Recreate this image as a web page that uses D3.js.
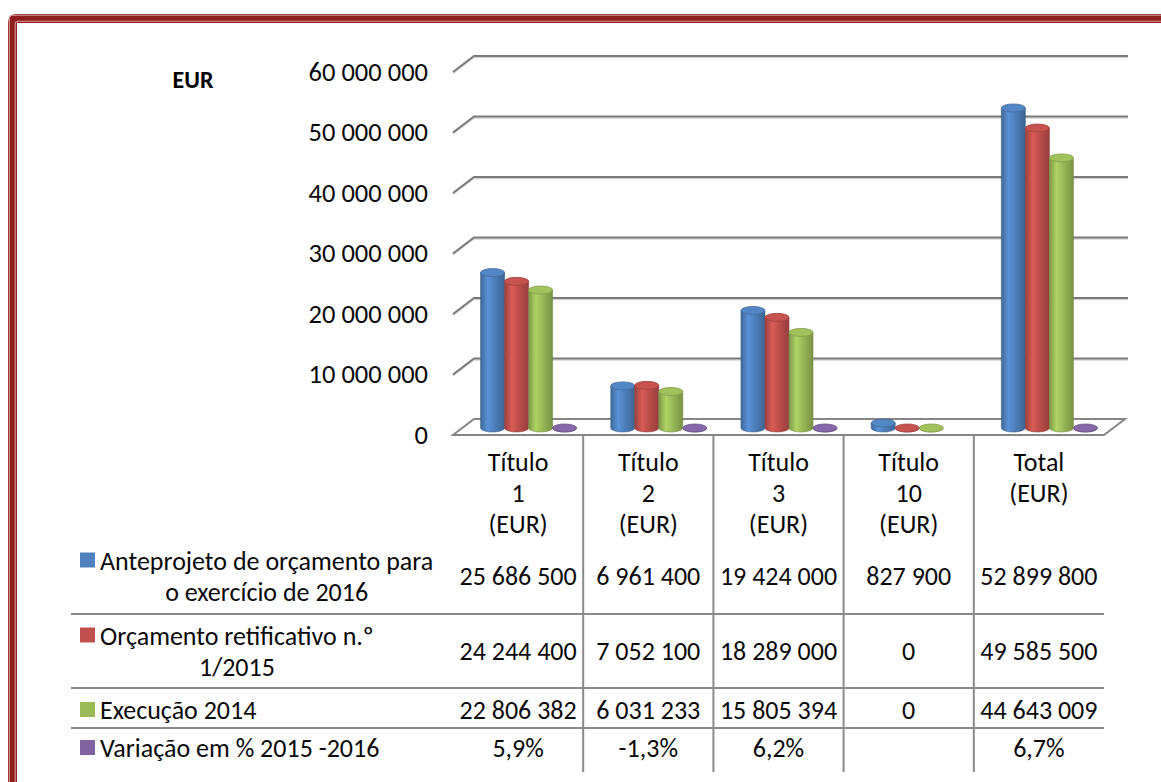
<!DOCTYPE html>
<html>
<head>
<meta charset="utf-8">
<script src="https://cdn.jsdelivr.net/npm/d3@7"></script>
<style>
  body { margin: 0; background: #fff; }
  svg { display: block; font-family: Calibri, Carlito, Lato, sans-serif; }
</style>
</head>
<body>
<svg></svg>
<script>
// data
const categories = ["Título 1", "Título 2", "Título 3", "Título 10", "Total"];
const categoryLines = [
  ["Título", "1", "(EUR)"],
  ["Título", "2", "(EUR)"],
  ["Título", "3", "(EUR)"],
  ["Título", "10", "(EUR)"],
  ["Total", "(EUR)"]
];
const seriesLines = [
  ["Anteprojeto de orçamento para", "o exercício de 2016"],
  ["Orçamento retificativo n.º", "1/2015"],
  ["Execução 2014"],
  ["Variação em % 2015 -2016"]
];
const anteprojeto2016 = [25686500, 6961400, 19424000, 827900, 52899800];
const orcamentoRetificativo = [24244400, 7052100, 18289000, 0, 49585500];
const execucao2014 = [22806382, 6031233, 15805394, 0, 44643009];
const variacao = [0.059, -0.013, 0.062, null, 0.067];
const yTicks = [0, 10000000, 20000000, 30000000, 40000000, 50000000, 60000000];
const seriesColors = ["#4f81bd", "#c0504d", "#9bbb59", "#8064a2"];

const allSeries = [anteprojeto2016, orcamentoRetificativo, execucao2014, variacao];

const locale = d3.formatLocale({
  decimal: ",", thousands: " ", grouping: [3], currency: ["", " €"], minus: "-"
});
const fmtNum = locale.format(",d");
const fmtPct = locale.format(".1%");

const fontSize = 26;
const textColor = "#0a0a0a";

const svg = d3.select("svg")
  .attr("width", 1161)
  .attr("height", 782);

const defs = svg.append("defs");

// frame (double red border, runs off the right and bottom)
svg.append("rect")
  .attr("x", 12.5).attr("y", 18.5)
  .attr("width", 1300).attr("height", 900)
  .attr("rx", 4)
  .attr("fill", "none")
  .attr("stroke", "#8e1e1e")
  .attr("stroke-width", 9);
[15.3, 21.2].forEach(o => {
  svg.append("rect")
    .attr("x", o - 6).attr("y", o)
    .attr("width", 1300).attr("height", 900)
    .attr("rx", 3)
    .attr("fill", "none")
    .attr("stroke", "#d99a9a")
    .attr("stroke-width", 1.1);
});

// scales
const x0 = d3.scaleBand().domain(categories).range([453, 1104]);
const x1 = d3.scaleBand().domain(d3.range(4)).range([0, x0.bandwidth()]).paddingOuter(0.71);
const y = d3.scaleLinear().domain([0, 60000000]).range([435, 72]);

const depthX = 21, depthY = -16;
const midX = 10.5, midY = -7;
const left = x0.range()[0], right = x0.range()[1];

// floor
svg.append("path")
  .attr("d", `M${left},${y(0)} L${right},${y(0)} L${right + depthX},${y(0) + depthY} L${left + depthX},${y(0) + depthY} Z`)
  .attr("fill", "#fff")
  .attr("stroke", "#868686")
  .attr("stroke-width", 2);

// gridlines on back wall, with diagonal ticks on the side wall
const grid = svg.append("g").attr("class", "grid");
yTicks.filter(t => t > 0).forEach(t => {
  const yy = y(t);
  grid.append("path")
    .attr("d", `M${left},${yy + 1.5} L${left + depthX},${yy + depthY + 1.5} L${right + depthX + 3},${yy + depthY + 1.5}`)
    .attr("fill", "none")
    .attr("stroke", "#d4d4d4")
    .attr("stroke-width", 1.5);
  grid.append("path")
    .attr("d", `M${left},${yy} L${left + depthX},${yy + depthY} L${right + depthX + 3},${yy + depthY}`)
    .attr("fill", "none")
    .attr("stroke", "#7a7a7a")
    .attr("stroke-width", 2);
});

// y axis labels
const axisY = d3.axisLeft(y)
  .tickValues(yTicks)
  .tickSize(0)
  .tickPadding(25)
  .tickFormat(fmtNum);

const axisYGroup = svg.append("g")
  .attr("transform", `translate(${left},0)`)
  .call(axisY);
axisYGroup.select(".domain").remove();
axisYGroup.selectAll("text")
  .attr("font-family", "Calibri, Carlito, Lato, sans-serif")
  .attr("font-size", fontSize + 0.5)
  .attr("fill", textColor);

svg.append("text")
  .attr("x", 193).attr("y", 80)
  .attr("dy", "0.35em")
  .attr("text-anchor", "middle")
  .attr("font-weight", "bold")
  .attr("font-size", 24)
  .attr("fill", "#000")
  .text("EUR");

// cylinder gradients
const shade = (c, k) => d3.color(c).darker(k).formatHex();
const tint = (c, k) => d3.color(c).brighter(k).formatHex();
seriesColors.forEach((c, i) => {
  const g = defs.append("linearGradient")
    .attr("id", "cyl" + i)
    .attr("x1", 0).attr("x2", 1).attr("y1", 0).attr("y2", 0);
  g.append("stop").attr("offset", 0).attr("stop-color", shade(c, 0.6));
  g.append("stop").attr("offset", 0.3).attr("stop-color", tint(c, 0.35));
  g.append("stop").attr("offset", 0.55).attr("stop-color", c);
  g.append("stop").attr("offset", 1).attr("stop-color", shade(c, 0.7));
});

// bars as cylinders
const rx = 12, ry = 4;
const bars = [];
allSeries.forEach((vals, s) => {
  vals.forEach((v, i) => {
    if (v === null) return;
    bars.push({ s, cat: categories[i], value: v });
  });
});

const barGroups = svg.append("g")
  .selectAll("g.bar")
  .data(bars)
  .enter()
  .append("g")
  .attr("class", "bar")
  .attr("transform", d => {
    const cx = x0(d.cat) + x1(d.s) + x1.bandwidth() / 2 + midX;
    return `translate(${cx},0)`;
  });

barGroups.append("path")
  .attr("d", d => {
    const yb = y(0) + midY;
    const yt = y(Math.max(0, d.value)) + midY;
    return `M${-rx},${yt} L${-rx},${yb} A${rx},${ry} 0 0 0 ${rx},${yb} L${rx},${yt} Z`;
  })
  .attr("fill", d => `url(#cyl${d.s})`)
  .attr("stroke", d => shade(seriesColors[d.s], 0.8))
  .attr("stroke-width", 0.6);

barGroups.append("ellipse")
  .attr("cx", 0)
  .attr("cy", d => y(Math.max(0, d.value)) + midY)
  .attr("rx", rx)
  .attr("ry", ry)
  .attr("fill", d => tint(seriesColors[d.s], 0.1))
  .attr("stroke", d => shade(seriesColors[d.s], 0.5))
  .attr("stroke-width", 0.8);

// data table
const lineColor = "#8a8a8a";
const table = svg.append("g").attr("class", "table");

categories.slice(1).forEach(c => {
  table.append("line")
    .attr("x1", x0(c)).attr("x2", x0(c))
    .attr("y1", y(0) + 1).attr("y2", 772)
    .attr("stroke", lineColor).attr("stroke-width", 2);
});
[614, 688, 728].forEach(yy => {
  table.append("line")
    .attr("x1", 71).attr("x2", right)
    .attr("y1", yy).attr("y2", yy)
    .attr("stroke", lineColor).attr("stroke-width", 2);
});

// category headers
categoryLines.forEach((lines, i) => {
  const cx = x0(categories[i]) + x0.bandwidth() / 2;
  const t = table.append("text")
    .attr("text-anchor", "middle")
    .attr("font-size", fontSize)
    .attr("fill", textColor);
  lines.forEach((l, k) => {
    t.append("tspan")
      .attr("x", cx)
      .attr("y", 462 + k * 31)
      .attr("dy", "0.35em")
      .text(l);
  });
});

// rows: legend key, label and values
const rowMid = [576, 651, 710, 748];
seriesLines.forEach((lines, s) => {
  const mid = rowMid[s];
  const y0 = lines.length > 1 ? mid - 15.5 : mid;

  table.append("rect")
    .attr("x", 80).attr("y", y0 - 8)
    .attr("width", 15).attr("height", 15)
    .attr("fill", seriesColors[s]);

  const first = table.append("text")
    .attr("x", 100).attr("y", y0)
    .attr("dy", "0.35em")
    .attr("font-size", fontSize)
    .attr("fill", textColor)
    .text(lines[0]);

  if (lines.length > 1) {
    const w = first.node().getComputedTextLength();
    table.append("text")
      .attr("x", 100 + w / 2).attr("y", mid + 15.5)
      .attr("dy", "0.35em")
      .attr("text-anchor", "middle")
      .attr("font-size", fontSize)
      .attr("fill", textColor)
      .text(lines[1]);
  }

  allSeries[s].forEach((v, i) => {
    if (v === null) return;
    table.append("text")
      .attr("x", x0(categories[i]) + x0.bandwidth() / 2)
      .attr("y", mid)
      .attr("dy", "0.35em")
      .attr("text-anchor", "middle")
      .attr("font-size", fontSize)
      .attr("fill", textColor)
      .text(s === 3 ? fmtPct(v) : fmtNum(v));
  });
});
</script>
</body>
</html>
